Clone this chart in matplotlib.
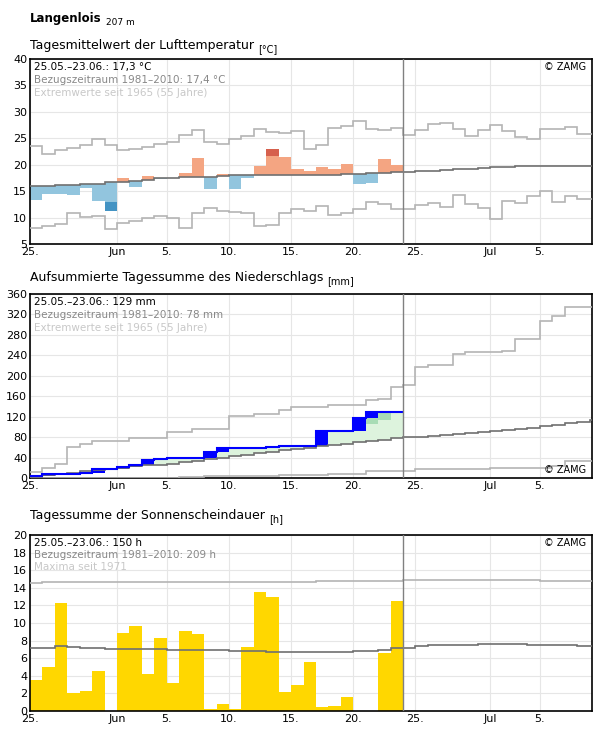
import matplotlib
matplotlib.use("Agg")
import matplotlib.pyplot as plt
import numpy as np

# ---------------- data ----------------
xtick_pos = [0, 7, 11, 16, 21, 26, 31, 37, 41]
xtick_lbl = ['25.', 'Jun', '5.', '10.', '15.', '20.', '25.', 'Jul', '5.']

temp = [13.4, 14.5, 14.5, 14.3, 15.5, 13.2, 11.3, 17.5, 15.7, 17.9, 17.3, 17.5, 18.5, 21.3, 15.5,
        18.3, 15.5, 17.4, 19.8, 23.0, 21.5, 19.1, 18.8, 19.6, 19.1, 20.2, 16.4, 16.6, 21.1, 20.0]
temp_mean = [16.0, 16.0, 16.2, 16.2, 16.4, 16.4, 16.7, 16.8, 17.0, 17.2, 17.4, 17.5, 17.6, 17.7, 17.7,
             17.9, 18.0, 18.0, 18.0, 18.0, 18.0, 18.0, 18.0, 18.0, 18.0, 18.2, 18.2, 18.4, 18.5, 18.6,
             18.7, 18.8, 18.8, 19.0, 19.1, 19.1, 19.3, 19.6, 19.6, 19.7, 19.7, 19.7, 19.7, 19.7, 19.7, 19.7]
temp_max = [23.5, 22.0, 22.8, 23.1, 23.8, 24.8, 23.7, 22.8, 23.0, 23.4, 23.9, 24.3, 25.6, 26.5, 24.3,
            23.9, 24.9, 25.5, 26.7, 26.2, 26.0, 26.4, 22.9, 23.7, 26.9, 27.3, 28.3, 26.7, 26.5, 26.9,
            25.6, 26.6, 27.7, 27.9, 26.8, 25.4, 26.5, 27.6, 26.3, 25.3, 24.9, 26.7, 26.7, 27.2, 25.8, 25.8]
temp_min = [8.0, 8.4, 8.8, 10.9, 10.1, 10.3, 7.8, 8.9, 9.3, 9.9, 10.3, 9.9, 8.0, 10.8, 11.8,
            11.3, 11.0, 10.9, 8.4, 8.6, 10.8, 11.6, 11.3, 12.2, 10.4, 10.8, 11.6, 12.9, 12.5, 11.6,
            11.6, 12.4, 12.7, 12.0, 14.2, 12.5, 11.8, 9.7, 13.2, 12.7, 14.1, 15.0, 12.9, 14.1, 13.5, 13.5]

precip_cum = [4.6, 7, 7, 8.5, 10, 18, 18, 22, 25, 34.5, 37.8, 39, 40, 40, 51,
              59, 59, 59, 59, 61, 63, 63, 63, 91, 91, 92.5, 117, 130, 130, 129]
precip_q = [999] * 26 + [104, 106, 114, 131]
precip_mean = [2.6, 5.2, 7.8, 10.4, 13, 15.6, 18, 20.5, 23, 25.5, 26, 28, 31, 34, 37,
               40, 43, 45.5, 48, 51, 54, 57, 59.5, 62, 64.5, 67, 69.5, 72, 75, 78.5,
               80, 81, 82, 84, 86, 88, 90, 92, 94, 96, 98, 101, 104, 107, 110, 112.6]
precip_max = [12, 20, 28, 60, 67, 72, 72, 72, 78, 78, 78, 90, 90, 96, 96,
              96, 122, 122, 125, 126, 133, 138, 138, 138, 143, 143, 143, 152, 154, 179,
              182, 218, 221, 221, 243, 246, 246, 246, 248, 272, 272, 308, 316, 335, 335, 335]
precip_min = [0] * 12 + [1, 1] + [3] * 6 + [6.5] * 4 + [8.5] * 3 + [14] * 4 + [17.5] * 6 + [19.5] * 5 + [23, 34, 34, 34]

sun = [3.5, 5.05, 12.26, 2.04, 2.26, 4.5, 0, 8.9, 9.7, 4.2, 8.3, 3.2, 9.1, 8.8, 0.2,
       0.75, 0.2, 7.3, 13.5, 13.0, 2.15, 2.9, 5.6, 0.43, 0.54, 1.6, 0, 0, 6.56, 12.47]
sun_mean = [7.2, 7.2, 7.35, 7.25, 7.2, 7.15, 7.1, 7.05, 7.0, 7.0, 7.0, 6.95, 6.9, 6.9, 6.9,
            6.9, 6.85, 6.85, 6.8, 6.75, 6.7, 6.7, 6.7, 6.7, 6.7, 6.75, 6.8, 6.85, 6.95, 7.15,
            7.17, 7.35, 7.45, 7.5, 7.55, 7.55, 7.6, 7.65, 7.65, 7.6, 7.55, 7.55, 7.5, 7.45, 7.4, 7.4]
sun_max = [14.6] + [14.7] * 22 + [14.8] * 7 + [14.87] * 11 + [14.8] * 5

N_OBS = len(temp)
N_ALL = len(temp_mean)
XMAX = 45.2

# ---------------- figure ----------------
plt.rcParams['font.family'] = ['DejaVu Sans']
fig = plt.figure(figsize=(5.96, 7.29), dpi=100)
L, W = 30 / 596, 562 / 596
ax1 = fig.add_axes([L, 1 - 244 / 729, W, 185 / 729])
ax2 = fig.add_axes([L, 1 - 478 / 729, W, 184 / 729])
ax3 = fig.add_axes([L, 1 - 711 / 729, W, 176 / 729])

edges_all = np.arange(N_ALL + 1)
days = np.arange(N_OBS)

def style(ax, ymin, ymax, step):
    ax.set_xlim(0, XMAX)
    ax.set_ylim(ymin, ymax)
    ax.set_xticks(xtick_pos)
    ax.set_xticklabels(xtick_lbl)
    ax.set_yticks(np.arange(ymin, ymax + 0.01, step))
    ax.grid(True, color='#e6e6e6', lw=0.8, zorder=0)
    ax.set_axisbelow(True)
    ax.tick_params(labelsize=8, length=0, pad=2)
    for s in ax.spines.values():
        s.set_linewidth(1.2)
    ax.axvline(N_OBS, color='#808080', lw=1, zorder=5)

def line(ax, vals, color, lw=1.2, z=3):
    ax.stairs(vals, np.arange(len(vals) + 1), color=color, lw=lw, baseline=None, zorder=z)

# ---- panel 1: temperature ----
style(ax1, 5, 40, 5)
thr = 3.7
for d in days:
    m, v = temp_mean[d], temp[d]
    if v >= m:
        lim = min(v, m + thr)
        ax1.bar(d, lim - m, bottom=m, width=1, align='edge', color='#f4a582', zorder=2)
        if v > lim:
            ax1.bar(d, v - lim, bottom=lim, width=1, align='edge', color='#d6604d', zorder=2)
    else:
        lim = max(v, m - thr)
        ax1.bar(d, lim - m, bottom=m, width=1, align='edge', color='#92c5de', zorder=2)
        if v < lim:
            ax1.bar(d, v - lim, bottom=lim, width=1, align='edge', color='#4393c3', zorder=2)
line(ax1, temp_max, '#b4b4b4')
line(ax1, temp_min, '#b4b4b4')
line(ax1, temp_mean, '#707070', z=4)

# ---- panel 2: precipitation ----
style(ax2, 0, 360, 40)
for d in days:
    c, m = precip_cum[d], precip_mean[d]
    prev = precip_cum[d - 1] if d > 0 else 0
    if c > m:
        ax2.bar(d, c - m, bottom=m, width=1, align='edge', color='#ddf3dd', zorder=2)
        q = precip_q[d]
        if c > q:
            ax2.bar(d, c - q, bottom=q, width=1, align='edge', color='#a8dcb5', zorder=2)
    if c > prev:
        ax2.bar(d, c - prev, bottom=prev, width=1, align='edge', color='#0000ff', zorder=3)
line(ax2, precip_max, '#b4b4b4')
line(ax2, precip_min, '#b4b4b4')
line(ax2, precip_mean, '#707070', z=4)
line(ax2, precip_cum, '#0000ff', lw=1.5, z=4)

# ---- panel 3: sunshine ----
style(ax3, 0, 20, 2)
ax3.bar(days, sun, width=1, align='edge', color='#ffd700', zorder=2)
line(ax3, sun_max, '#b4b4b4')
line(ax3, sun_mean, '#707070', z=4)

# ---- texts ----
def info(ax, l1, l2, l3):
    ax.text(0.007, 0.985, l1, transform=ax.transAxes, fontsize=7.5, va='top', color='black', zorder=6)
    ax.text(0.007, 0.915, l2, transform=ax.transAxes, fontsize=7.5, va='top', color='#888888', zorder=6)
    ax.text(0.007, 0.845, l3, transform=ax.transAxes, fontsize=7.5, va='top', color='#c8c8c8', zorder=6)

info(ax1, '25.05.–23.06.: 17,3 °C', 'Bezugszeitraum 1981–2010: 17,4 °C', 'Extremwerte seit 1965 (55 Jahre)')
info(ax2, '25.05.–23.06.: 129 mm', 'Bezugszeitraum 1981–2010: 78 mm', 'Extremwerte seit 1965 (55 Jahre)')
info(ax3, '25.05.–23.06.: 150 h', 'Bezugszeitraum 1981–2010: 209 h', 'Maxima seit 1971')
ax1.text(0.99, 0.985, '© ZAMG', transform=ax1.transAxes, fontsize=7, va='top', ha='right')
ax2.text(0.99, 0.015, '© ZAMG', transform=ax2.transAxes, fontsize=7, va='bottom', ha='right')
ax3.text(0.99, 0.985, '© ZAMG', transform=ax3.transAxes, fontsize=7, va='top', ha='right')

def title(y, main, unit, size, bold=False, usize=7):
    t = fig.text(30 / 596, 1 - y / 729, main, fontsize=size, va='baseline',
                 fontweight='bold' if bold else 'normal')
    fig.text(0, 0, unit, fontsize=usize, va='baseline')
    fig.texts[-1].remove()
    from matplotlib.text import OffsetFrom
    fig.text(0, 0, '')  # placeholder removed below
    fig.texts[-1].remove()
    a = plt.annotate(unit, xy=(1, 0), xycoords=t, xytext=(3, 0), textcoords='offset points',
                     fontsize=usize, va='baseline', annotation_clip=False)
    return t

title(22, 'Langenlois', '207 m', 8.5, bold=True, usize=6.5)
title(49, 'Tagesmittelwert der Lufttemperatur', '[°C]', 9)
title(281, 'Aufsummierte Tagessumme des Niederschlags', '[mm]', 9)
title(519, 'Tagessumme der Sonnenscheindauer', '[h]', 9)

fig.savefig('out.png', dpi=100)
